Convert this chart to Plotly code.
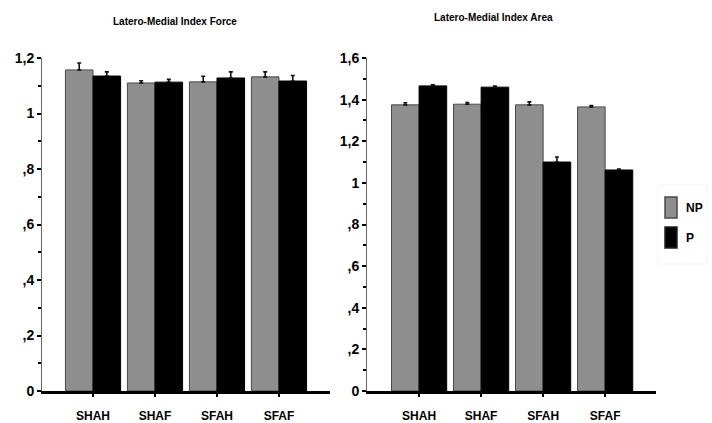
import plotly.graph_objects as go

# Data
categories = ["SHAH", "SHAF", "SFAH", "SFAF"]

force_np = [1.157, 1.110, 1.114, 1.132]
force_np_err = [0.025, 0.008, 0.020, 0.018]
force_p = [1.135, 1.113, 1.128, 1.117]
force_p_err = [0.015, 0.010, 0.022, 0.020]

area_np = [1.375, 1.378, 1.375, 1.365]
area_np_err = [0.010, 0.008, 0.014, 0.006]
area_p = [1.466, 1.460, 1.100, 1.062]
area_p_err = [0.005, 0.005, 0.024, 0.004]

force_ticks = [0, 0.2, 0.4, 0.6, 0.8, 1.0, 1.2]
force_ticktext = ["0", ",2", ",4", ",6", ",8", "1", "1,2"]
area_ticks = [0, 0.2, 0.4, 0.6, 0.8, 1.0, 1.2, 1.4, 1.6]
area_ticktext = ["0", ",2", ",4", ",6", ",8", "1", "1,2", "1,4", "1,6"]

titles = ["Latero-Medial Index Force", "Latero-Medial Index Area"]
series_names = ["NP", "P"]

# Style
W, H = 712, 423
FONT = "Liberation Sans, Arial, sans-serif"
GRAY = "#8e8e8e"
GRAY_EDGE = "#4a4a4a"
BLACK = "#000000"


def px_x(v):
    return v / W


def px_y(v):
    return 1 - v / H


fig = go.Figure()


def add_pair(np_vals, np_err, p_vals, p_err, xa, ya):
    fig.add_trace(go.Bar(
        x=categories, y=np_vals, name=series_names[0], xaxis=xa, yaxis=ya,
        marker=dict(color=GRAY, line=dict(color=GRAY_EDGE, width=1)),
        error_y=dict(type="data", symmetric=False, array=np_err,
                     arrayminus=[0] * len(np_err), color="#111111",
                     thickness=1.6, width=2),
        showlegend=False,
    ))
    fig.add_trace(go.Bar(
        x=categories, y=p_vals, name=series_names[1], xaxis=xa, yaxis=ya,
        marker=dict(color=BLACK, line=dict(color=BLACK, width=1)),
        error_y=dict(type="data", symmetric=False, array=p_err,
                     arrayminus=[0] * len(p_err), color="#111111",
                     thickness=1.6, width=2),
        showlegend=False,
    ))


add_pair(force_np, force_np_err, force_p, force_p_err, "x", "y")
add_pair(area_np, area_np_err, area_p, area_p_err, "x2", "y2")

y_domain = [px_y(391), px_y(58)]

xaxis_common = dict(
    showline=True, linecolor="#000000", linewidth=2.5,
    ticks="outside", ticklen=3, tickwidth=1.5, tickcolor="#000000",
    tickfont=dict(family=FONT, size=12, color="#000000", weight="bold"),
    ticklabelstandoff=9, showgrid=False, zeroline=False, fixedrange=True,
    automargin=False,
)
yaxis_common = dict(
    showline=True, linecolor="#666666", linewidth=1,
    ticks="outside", ticklen=4, tickwidth=2, tickcolor="#000000",
    tickfont=dict(family=FONT, size=14, color="#000000", weight="bold"),
    showgrid=False, zeroline=False, fixedrange=True, domain=y_domain,
    automargin=False,
)

fig.update_layout(
    width=W, height=H,
    margin=dict(l=0, r=0, t=0, b=0, autoexpand=False),
    paper_bgcolor="white", plot_bgcolor="white",
    barmode="group", bargap=0.11, bargroupgap=0,
    xaxis=dict(xaxis_common, domain=[px_x(42), px_x(330)],
               range=[-0.823, 3.823], anchor="y"),
    yaxis=dict(yaxis_common, range=[0, 1.2], tickvals=force_ticks,
               ticktext=force_ticktext, anchor="x",
               minor=dict(dtick=0.1, tick0=0, ticks="outside", ticklen=3,
                          tickwidth=1.5, tickcolor="#000000")),
    xaxis2=dict(xaxis_common, domain=[px_x(367), px_x(656)],
                range=[-0.84, 3.82], anchor="y2"),
    yaxis2=dict(yaxis_common, range=[0, 1.6], tickvals=area_ticks,
                ticktext=area_ticktext, anchor="x2",
                minor=dict(dtick=0.1, tick0=0, ticks="outside", ticklen=3,
                           tickwidth=1.5, tickcolor="#000000")),
    showlegend=False,
)

# Panel titles
for text, cx, cy in [(titles[0], 175, 22), (titles[1], 493, 18)]:
    fig.add_annotation(
        text=text, xref="paper", yref="paper", x=px_x(cx), y=px_y(cy),
        xanchor="center", yanchor="middle", showarrow=False,
        font=dict(family=FONT, size=10, color="#000000", weight="bold"),
    )

# Legend (drawn as boxes with labels)
fig.add_shape(type="rect", xref="paper", yref="paper",
              x0=px_x(658), x1=px_x(707), y0=px_y(185), y1=px_y(264),
              line=dict(color="#f3f3f3", width=1), fillcolor="rgba(0,0,0,0)")
legend_items = [(series_names[0], GRAY, GRAY_EDGE, 197, 218),
                (series_names[1], BLACK, "#222222", 227, 248)]
for name, fill, edge, top, bottom in legend_items:
    fig.add_shape(type="rect", xref="paper", yref="paper",
                  x0=px_x(665), x1=px_x(677), y0=px_y(bottom), y1=px_y(top),
                  line=dict(color=edge, width=1.5), fillcolor=fill)
    fig.add_annotation(
        text=name, xref="paper", yref="paper", x=px_x(684),
        y=px_y((top + bottom) / 2), xanchor="left", yanchor="middle",
        showarrow=False,
        font=dict(family=FONT, size=12, color="#000000", weight="bold"),
    )

fig.write_html("out.html")
